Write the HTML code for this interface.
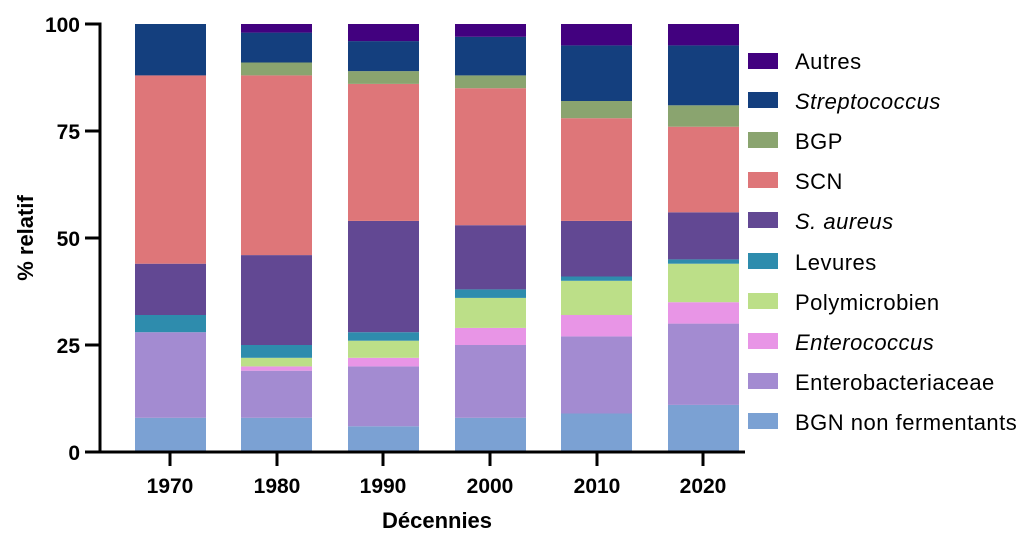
<!DOCTYPE html>
<html><head><meta charset="utf-8"><style>body{margin:0;background:#fff}svg{display:block}text{font-family:"Liberation Sans",Arial,sans-serif}</style></head>
<body>
<svg width="1027" height="541" viewBox="0 0 1027 541" xmlns="http://www.w3.org/2000/svg">
<g>
<g transform="translate(135,0)">
<rect y="417.8" width="71" height="34.2" fill="#7ba1d3"/><rect y="332.2" width="71" height="85.6" fill="#a38bd1"/><rect y="315.0" width="71" height="17.2" fill="#2e8cad"/><rect y="263.7" width="71" height="51.3" fill="#624893"/><rect y="75.4" width="71" height="188.3" fill="#de7679"/><rect y="24" width="71" height="51.4" fill="#143f7e"/>
</g>
<g transform="translate(241,0)">
<rect y="417.8" width="71" height="34.2" fill="#7ba1d3"/><rect y="370.7" width="71" height="47.1" fill="#a38bd1"/><rect y="366.4" width="71" height="4.3" fill="#e895e6"/><rect y="357.8" width="71" height="8.6" fill="#bcdf88"/><rect y="345.0" width="71" height="12.8" fill="#2e8cad"/><rect y="255.1" width="71" height="89.9" fill="#624893"/><rect y="75.4" width="71" height="179.7" fill="#de7679"/><rect y="62.5" width="71" height="12.9" fill="#8aa46f"/><rect y="32.6" width="71" height="29.9" fill="#143f7e"/><rect y="24" width="71" height="8.6" fill="#42017f"/>
</g>
<g transform="translate(348,0)">
<rect y="426.3" width="71" height="25.7" fill="#7ba1d3"/><rect y="366.4" width="71" height="59.9" fill="#a38bd1"/><rect y="357.8" width="71" height="8.6" fill="#e895e6"/><rect y="340.7" width="71" height="17.1" fill="#bcdf88"/><rect y="332.2" width="71" height="8.5" fill="#2e8cad"/><rect y="220.9" width="71" height="111.3" fill="#624893"/><rect y="83.9" width="71" height="137" fill="#de7679"/><rect y="71.1" width="71" height="12.8" fill="#8aa46f"/><rect y="41.1" width="71" height="30" fill="#143f7e"/><rect y="24" width="71" height="17.1" fill="#42017f"/>
</g>
<g transform="translate(455,0)">
<rect y="417.8" width="71" height="34.2" fill="#7ba1d3"/><rect y="345" width="71" height="72.8" fill="#a38bd1"/><rect y="327.9" width="71" height="17.1" fill="#e895e6"/><rect y="297.9" width="71" height="30" fill="#bcdf88"/><rect y="289.4" width="71" height="8.5" fill="#2e8cad"/><rect y="225.2" width="71" height="64.2" fill="#624893"/><rect y="88.2" width="71" height="137" fill="#de7679"/><rect y="75.4" width="71" height="12.8" fill="#8aa46f"/><rect y="36.8" width="71" height="38.6" fill="#143f7e"/><rect y="24" width="71" height="12.8" fill="#42017f"/>
</g>
<g transform="translate(561,0)">
<rect y="413.5" width="71" height="38.5" fill="#7ba1d3"/><rect y="336.4" width="71" height="77.1" fill="#a38bd1"/><rect y="315.0" width="71" height="21.4" fill="#e895e6"/><rect y="280.8" width="71" height="34.2" fill="#bcdf88"/><rect y="276.5" width="71" height="4.3" fill="#2e8cad"/><rect y="220.9" width="71" height="55.6" fill="#624893"/><rect y="118.2" width="71" height="102.7" fill="#de7679"/><rect y="101.0" width="71" height="17.2" fill="#8aa46f"/><rect y="45.4" width="71" height="55.6" fill="#143f7e"/><rect y="24" width="71" height="21.4" fill="#42017f"/>
</g>
<g transform="translate(668,0)">
<rect y="404.9" width="71" height="47.1" fill="#7ba1d3"/><rect y="323.6" width="71" height="81.3" fill="#a38bd1"/><rect y="302.2" width="71" height="21.4" fill="#e895e6"/><rect y="263.7" width="71" height="38.5" fill="#bcdf88"/><rect y="259.4" width="71" height="4.3" fill="#2e8cad"/><rect y="212.3" width="71" height="47.1" fill="#624893"/><rect y="126.7" width="71" height="85.6" fill="#de7679"/><rect y="105.3" width="71" height="21.4" fill="#8aa46f"/><rect y="45.4" width="71" height="59.9" fill="#143f7e"/><rect y="24" width="71" height="21.4" fill="#42017f"/>
</g>
</g>
<g stroke="#000" stroke-width="3" fill="none">
<line x1="100" y1="22.5" x2="100" y2="453.5"/>
<line x1="98.5" y1="452" x2="745" y2="452"/>
<line x1="85" y1="24" x2="100" y2="24"/><line x1="85" y1="131" x2="100" y2="131"/><line x1="85" y1="238" x2="100" y2="238"/><line x1="85" y1="345" x2="100" y2="345"/><line x1="85" y1="452" x2="100" y2="452"/>
<line x1="170" y1="452" x2="170" y2="466"/><line x1="277" y1="452" x2="277" y2="466"/><line x1="383" y1="452" x2="383" y2="466"/><line x1="490" y1="452" x2="490" y2="466"/><line x1="597" y1="452" x2="597" y2="466"/><line x1="703" y1="452" x2="703" y2="466"/>
</g>
<g font-size="21" font-weight="bold" text-anchor="end">
<text x="80" y="32">100</text><text x="80" y="139">75</text><text x="80" y="246">50</text><text x="80" y="353">25</text><text x="80" y="460">0</text>
</g>
<g font-size="21" font-weight="bold" text-anchor="middle">
<text x="170" y="493">1970</text><text x="277" y="493">1980</text><text x="383" y="493">1990</text><text x="490" y="493">2000</text><text x="597" y="493">2010</text><text x="703" y="493">2020</text>
<text x="437" y="528" font-size="22">Décennies</text>
<text transform="translate(33,238) rotate(-90)" font-size="22">% relatif</text>
</g>
<g font-size="22" letter-spacing="0.5">
<rect x="748" y="53" width="30" height="16" fill="#42017f"/><text x="795" y="69">Autres</text>
<rect x="748" y="92" width="30" height="16" fill="#143f7e"/><text x="795" y="109" font-style="italic">Streptococcus</text>
<rect x="748" y="132" width="30" height="16" fill="#8aa46f"/><text x="795" y="149">BGP</text>
<rect x="748" y="172" width="30" height="16" fill="#de7679"/><text x="795" y="189">SCN</text>
<rect x="748" y="212" width="30" height="16" fill="#624893"/><text x="795" y="229" font-style="italic">S. aureus</text>
<rect x="748" y="253" width="30" height="16" fill="#2e8cad"/><text x="795" y="270">Levures</text>
<rect x="748" y="293" width="30" height="16" fill="#bcdf88"/><text x="795" y="310">Polymicrobien</text>
<rect x="748" y="333" width="30" height="16" fill="#e895e6"/><text x="795" y="350" font-style="italic">Enterococcus</text>
<rect x="748" y="373" width="30" height="16" fill="#a38bd1"/><text x="795" y="390">Enterobacteriaceae</text>
<rect x="748" y="413" width="30" height="16" fill="#7ba1d3"/><text x="795" y="430">BGN non fermentants</text>
</g>
</svg>
</body></html>
